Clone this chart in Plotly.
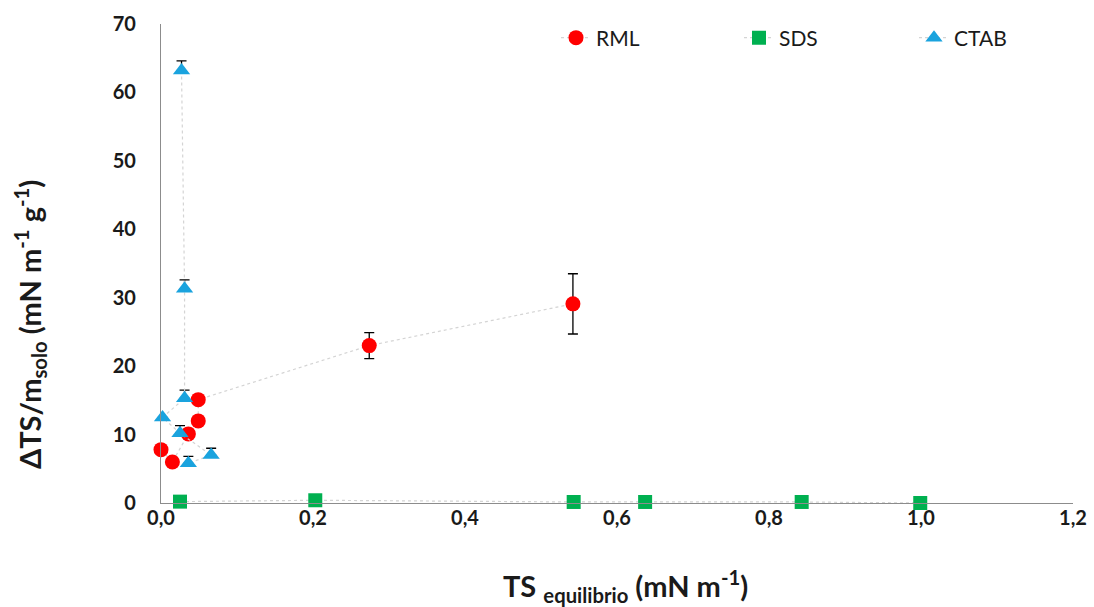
import plotly.graph_objects as go

# RML
rml_x = [0.000, 0.015, 0.036, 0.049, 0.049, 0.274, 0.542]
rml_y = [7.8, 6.0, 10.1, 12.0, 15.1, 23.0, 29.1]
rml_err = [0, 0, 0, 0, 0, 1.9, 4.4]

# SDS
sds_x = [0.025, 0.203, 0.543, 0.637, 0.843, 0.999]
sds_y = [0.2, 0.4, 0.15, 0.15, 0.15, 0.0]

# CTAB
ctab_x = [0.027, 0.031, 0.031, 0.002, 0.025, 0.066, 0.036]
ctab_y = [63.2, 31.3, 15.3, 12.5, 10.2, 7.0, 5.8]
ctab_err = [1.4, 1.3, 1.2, 0, 1.1, 1.0, 1.0]

x_ticks = [0, 0.2, 0.4, 0.6, 0.8, 1.0, 1.2]
x_ticklabels = ["0,0", "0,2", "0,4", "0,6", "0,8", "1,0", "1,2"]
y_ticks = [0, 10, 20, 30, 40, 50, 60, 70]

x_title = "<b>TS <sub>equilibrio</sub> (mN m<sup>-1</sup>)</b>"
y_title = "<b>ΔTS/m<sub>solo</sub> (mN m<sup>-1</sup> g<sup>-1</sup>)</b>"

line_style = dict(color="#d4d4d4", width=1.2, dash="dot")
err_style = dict(color="black", thickness=1.3, width=5)

fig = go.Figure()
fig.add_trace(go.Scatter(
    x=rml_x, y=rml_y, name="RML", mode="lines+markers",
    line=line_style, legend="legend",
    marker=dict(symbol="circle", size=15, color="#ff0000"),
    error_y=dict(type="data", array=rml_err, visible=True, **err_style),
    cliponaxis=False,
))
fig.add_trace(go.Scatter(
    x=sds_x, y=sds_y, name="SDS", mode="lines+markers",
    line=line_style, legend="legend2",
    marker=dict(symbol="square", size=14, color="#00b050"),
    cliponaxis=False,
))
fig.add_trace(go.Scatter(
    x=ctab_x, y=ctab_y, name="CTAB", mode="lines+markers",
    line=line_style, legend="legend3",
    marker=dict(symbol="triangle-up", size=15, color="#1aa3de"),
    error_y=dict(type="data", array=ctab_err, symmetric=False,
                 arrayminus=[0]*len(ctab_err), visible=True, **err_style),
    cliponaxis=False,
))

font_family = "Lato, 'Open Sans', sans-serif"
W, H = 1094, 607
L, R, T, B = 161, 21, 24, 104
PW, PH = W - L - R, H - T - B

def leg(xpx):
    return dict(
        xref="container", yref="container",
        x=xpx / W, y=1 - 38 / H, xanchor="left", yanchor="middle",
        font=dict(size=21, color="#1a1a1a", family=font_family),
        bgcolor="rgba(0,0,0,0)",
    )

fig.update_layout(
    width=W, height=H,
    margin=dict(l=L, r=R, t=T, b=B, autoexpand=False),
    paper_bgcolor="white", plot_bgcolor="white",
    separators=",.",
    font=dict(family=font_family, color="#1a1a1a"),
    showlegend=True,
    legend=leg(556),
    legend2=leg(739),
    legend3=leg(914),
    xaxis=dict(
        range=[0, 1.2], tickvals=x_ticks, ticktext=x_ticklabels,
        showgrid=False, zeroline=False, showline=True,
        linecolor="#8c8c8c", linewidth=1.3, ticks="",
        ticklabelstandoff=-3,
        tickfont=dict(size=20, family=font_family, color="#1a1a1a", weight="bold"),
    ),
    yaxis=dict(
        range=[0, 70], tickvals=y_ticks,
        showgrid=False, zeroline=False, showline=True,
        linecolor="#8c8c8c", linewidth=1.3, ticks="",
        ticklabelstandoff=20,
        tickfont=dict(size=20, family=font_family, color="#1a1a1a", weight="bold"),
    ),
    annotations=[
        dict(text=x_title, xref="paper", yref="paper",
             x=(625 - L) / PW, y=-(586 - (T + PH)) / PH,
             xanchor="center", yanchor="middle", showarrow=False,
             font=dict(size=29, family=font_family, color="#1a1a1a")),
        dict(text=y_title, xref="paper", yref="paper", textangle=-90,
             x=(30 - L) / PW, y=((T + PH) - 325) / PH,
             xanchor="center", yanchor="middle", showarrow=False,
             font=dict(size=29, family=font_family, color="#1a1a1a")),
    ],
)

fig.write_html("out.html")
